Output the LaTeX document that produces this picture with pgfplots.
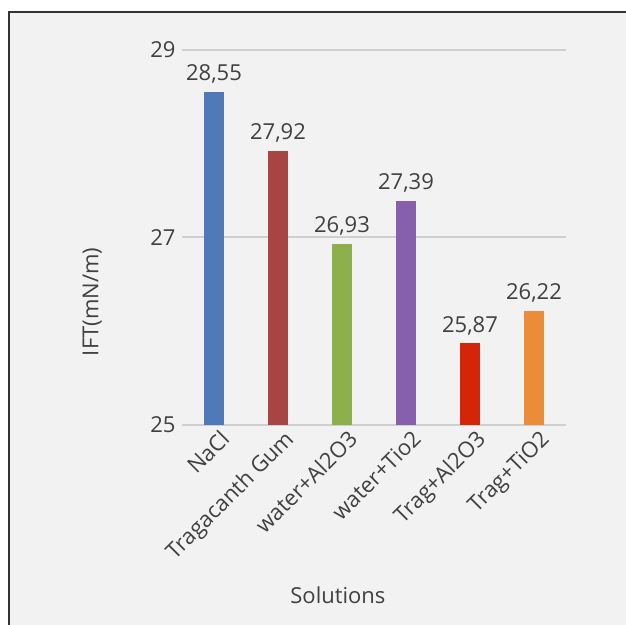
\documentclass[border=0pt]{standalone}
\usepackage{fontspec}
\setmainfont{Open Sans}
\usepackage{pgfplots}
\pgfplotsset{compat=1.18}
\definecolor{bg}{HTML}{F2F2F2}
\definecolor{txt}{HTML}{404040}
\definecolor{gridc}{HTML}{CFCFCF}
\definecolor{c1}{HTML}{5079B8}
\definecolor{c2}{HTML}{A84444}
\definecolor{c3}{HTML}{8DB04C}
\definecolor{c4}{HTML}{865FAD}
\definecolor{c5}{HTML}{D42508}
\definecolor{c6}{HTML}{EB8D38}
\begin{document}
\begin{tikzpicture}[x=1bp,y=1bp]
\useasboundingbox (0,0) rectangle (626,625);
\fill[white] (0,0) rectangle (626,625);
\fill[bg] (9,0) rectangle (626,613);
\draw[line width=1.2bp, color=black!80] (9,0) -- (9,613) -- (626,613);
\begin{axis}[
  at={(182bp,200bp)}, anchor=south west,
  width=384bp, height=375bp, scale only axis,
  xmin=-0.5, xmax=5.5, ymin=25, ymax=29,
  ytick={25,27,29},
  xtick={0,1,2,3,4,5},
  xticklabels={NaCl,Tragacanth Gum,water+Al2O3,water+Tio2,Trag+Al2O3,Trag+TiO2},
  axis line style={draw=none},
  major tick length=0pt,
  ymajorgrids,
  grid style={gridc, line width=2bp},
  /pgf/number format/assume math mode=true,
  tick label style={font=\fontsize{22bp}{26bp}\selectfont, text=txt},
  yticklabel style={xshift=-3bp},
  xticklabel style={rotate=45, anchor=north east, inner sep=1bp, yshift=-5bp, xshift=2bp},
  ylabel={IFT(mN/m)},
  ylabel style={at={(axis description cs:-0.234,0.328)}, anchor=center, font=\fontsize{22bp}{26bp}\selectfont, text=txt},
  xlabel={Solutions},
  xlabel style={at={(axis description cs:0.406,-0.453)}, anchor=center, font=\fontsize{22bp}{26bp}\selectfont, text=txt},
  ybar, bar width=20bp, bar shift=0pt,
  nodes near coords,
  every node near coord/.append style={font=\fontsize{22bp}{26bp}\selectfont, text=txt, yshift=5bp},
  nodes near coords style={/pgf/number format/.cd, use comma, fixed, fixed zerofill, precision=2, assume math mode=true},
  clip=false,
]
\addplot[fill=c1, draw=none] coordinates {(0,28.55)};
\addplot[fill=c2, draw=none] coordinates {(1,27.92)};
\addplot[fill=c3, draw=none] coordinates {(2,26.93)};
\addplot[fill=c4, draw=none] coordinates {(3,27.39)};
\addplot[fill=c5, draw=none] coordinates {(4,25.87)};
\addplot[fill=c6, draw=none] coordinates {(5,26.22)};
\end{axis}
\end{tikzpicture}
\end{document}
